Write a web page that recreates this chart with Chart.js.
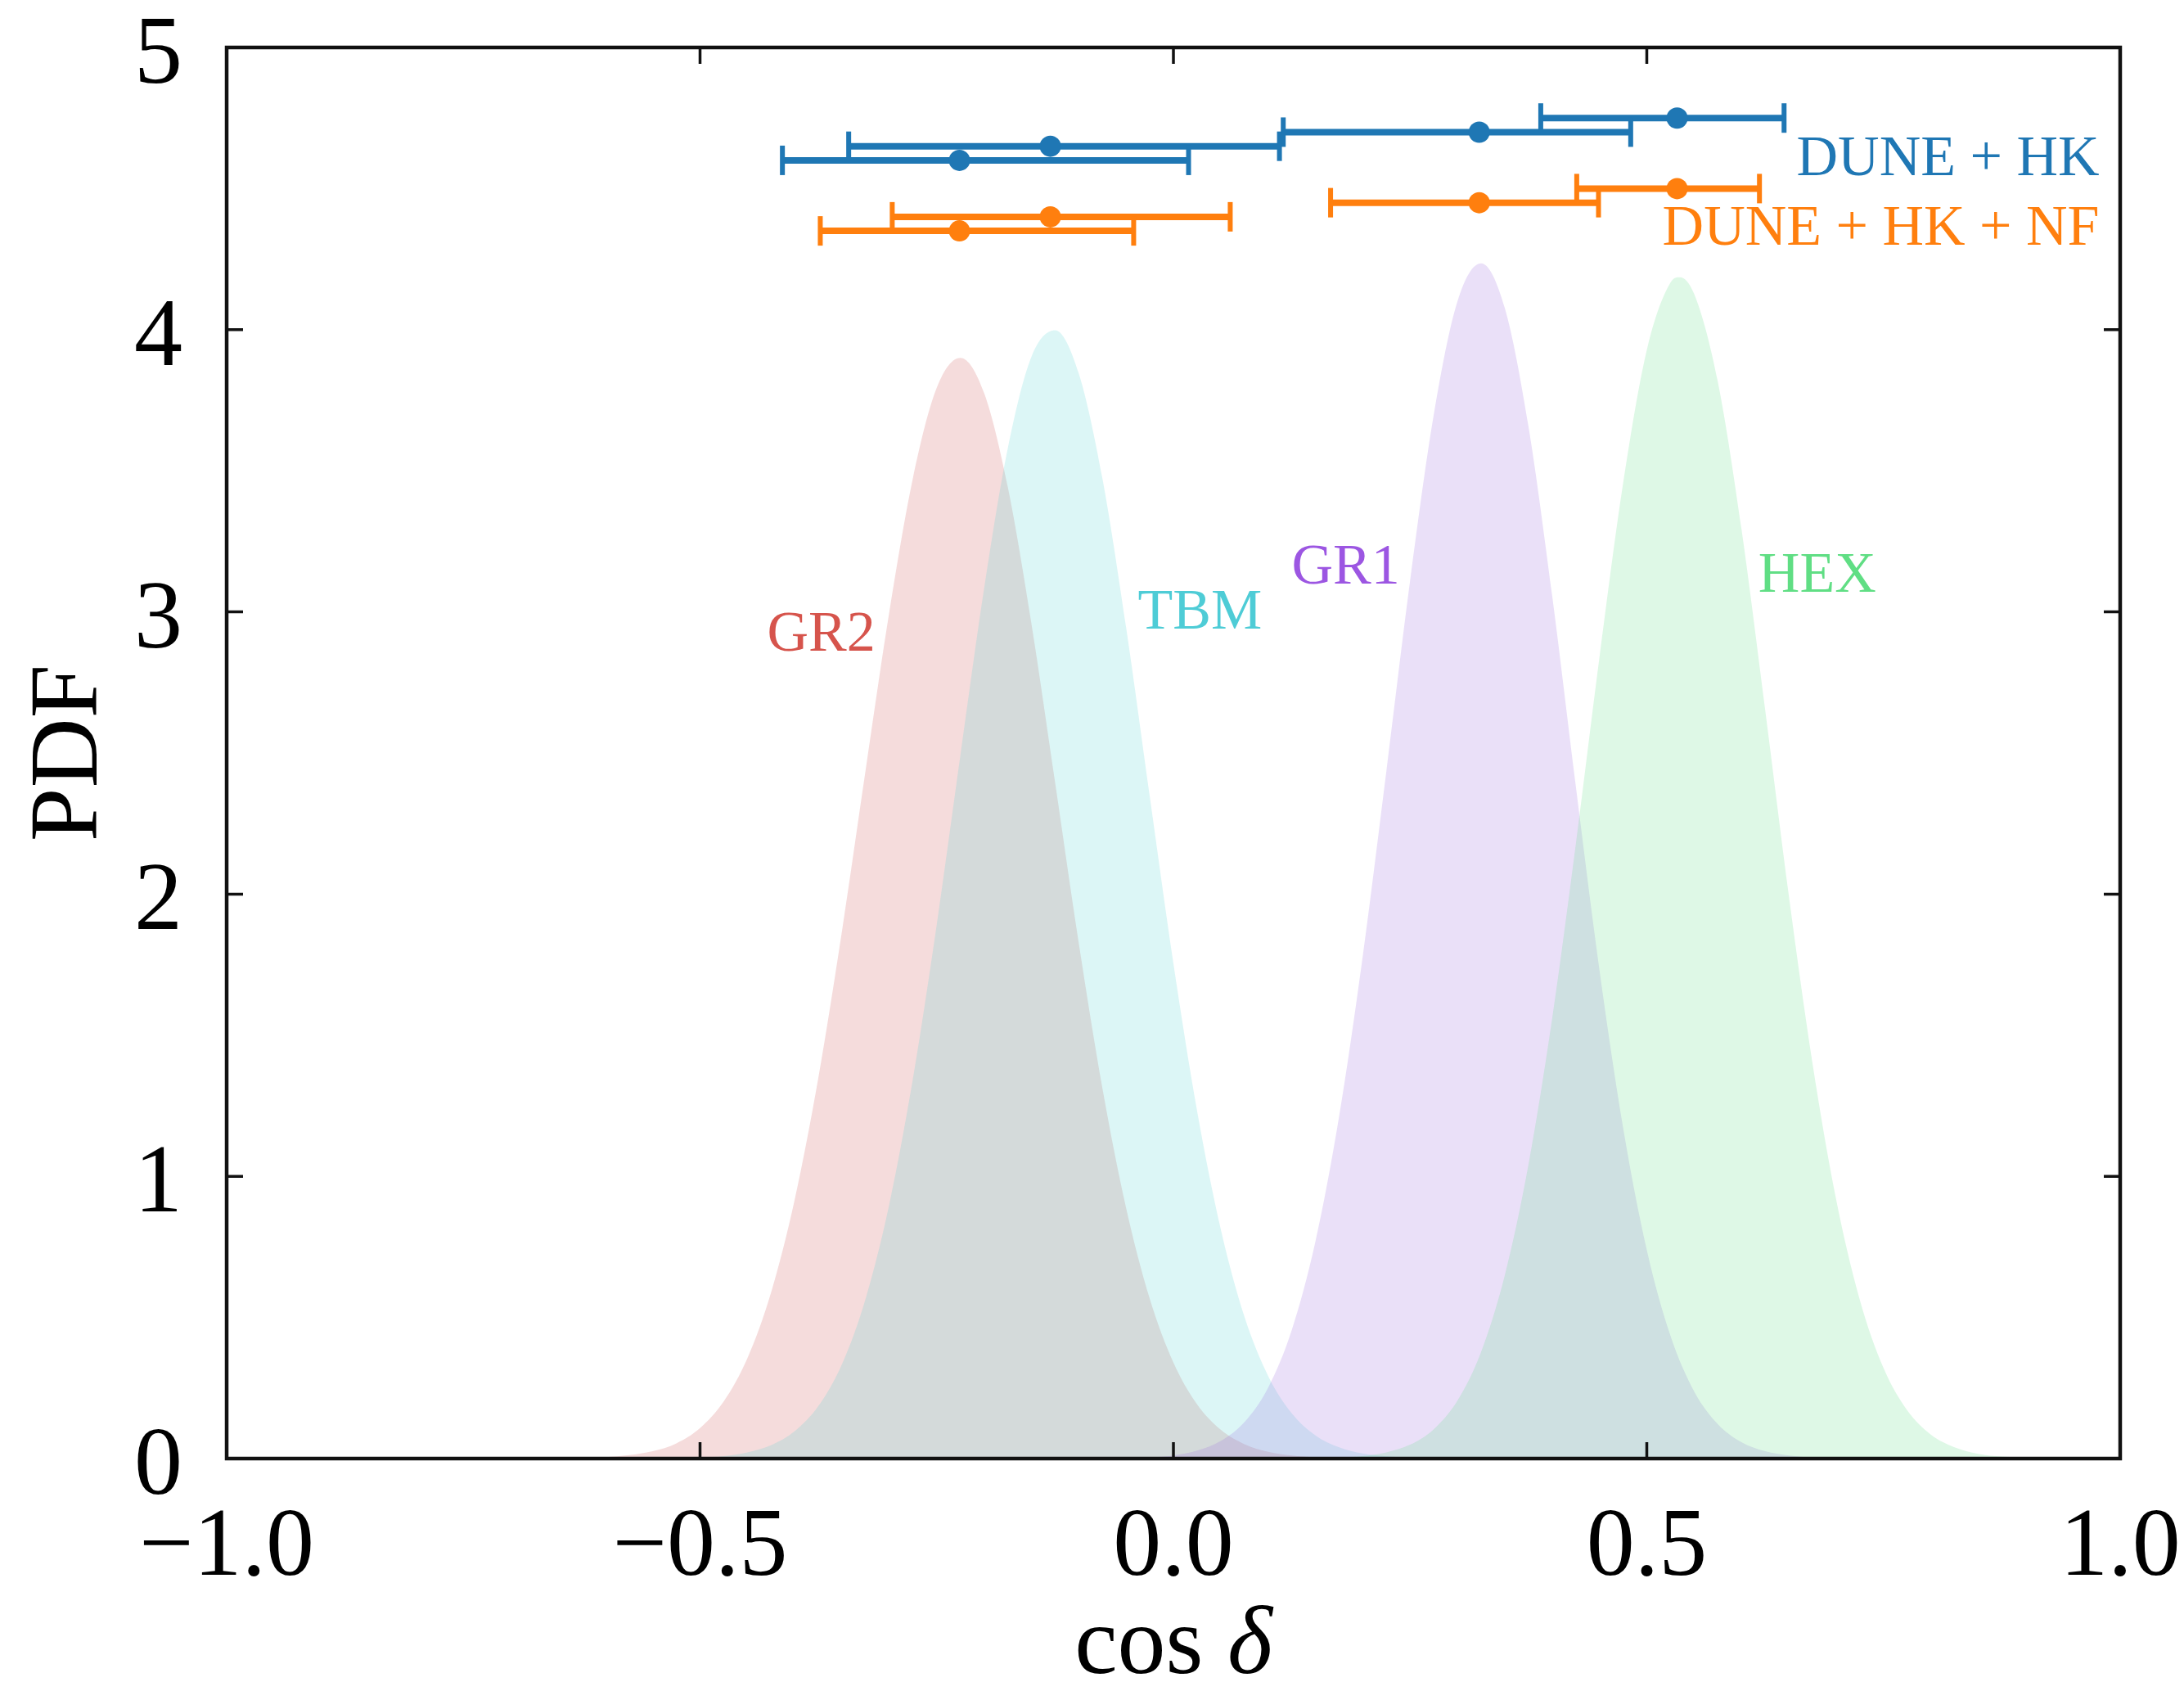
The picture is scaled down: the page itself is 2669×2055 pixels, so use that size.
<!DOCTYPE html>
<html>
<head>
<meta charset="utf-8">
<script src="https://cdn.jsdelivr.net/npm/chart.js@4.4.1/dist/chart.umd.min.js"></script>
<style>
    html, body { margin: 0; padding: 0; background: #fff; }
    canvas { display: block; }
</style>
</head>
<body>
<canvas id="pdf-chart" width="2669" height="2055"></canvas>
<script>
// cos(delta) grid and PDF, one pair per model
const gr2X = [-0.625, -0.6, -0.575, -0.55, -0.525, -0.5, -0.475, -0.45, -0.425, -0.4, -0.375, -0.35, -0.325, -0.3, -0.275, -0.25, -0.225, -0.2, -0.175, -0.15, -0.125, -0.1, -0.075, -0.05, -0.025, 0, 0.025, 0.05, 0.075, 0.1, 0.125, 0.15, 0.175]
const gr2Y = [0.002, 0.005, 0.012, 0.026, 0.054, 0.108, 0.202, 0.355, 0.588, 0.918, 1.350, 1.871, 2.442, 3.002, 3.477, 3.794, 3.900, 3.776, 3.444, 2.959, 2.396, 1.827, 1.312, 0.888, 0.566, 0.340, 0.192, 0.102, 0.051, 0.024, 0.011, 0.005, 0.002]

const tbmX = [-0.525, -0.5, -0.475, -0.45, -0.425, -0.4, -0.375, -0.35, -0.325, -0.3, -0.275, -0.25, -0.225, -0.2, -0.175, -0.15, -0.125, -0.1, -0.075, -0.05, -0.025, 0, 0.025, 0.05, 0.075, 0.1, 0.125, 0.15, 0.175, 0.2, 0.225, 0.25, 0.275]
const tbmY = [0.001, 0.004, 0.009, 0.022, 0.047, 0.097, 0.186, 0.335, 0.568, 0.903, 1.349, 1.892, 2.492, 3.082, 3.579, 3.904, 3.998, 3.845, 3.473, 2.946, 2.346, 1.754, 1.232, 0.813, 0.503, 0.293, 0.160, 0.082, 0.040, 0.018, 0.008, 0.003, 0.001]

const gr1X = [-0.05, -0.025, 0, 0.025, 0.05, 0.075, 0.1, 0.125, 0.15, 0.175, 0.2, 0.225, 0.25, 0.275, 0.3, 0.325, 0.35, 0.375, 0.4, 0.425, 0.45, 0.475, 0.5, 0.525, 0.55, 0.575, 0.6, 0.625, 0.65, 0.675, 0.7]
const gr1Y = [0.002, 0.004, 0.011, 0.028, 0.062, 0.129, 0.251, 0.455, 0.769, 1.212, 1.781, 2.438, 3.111, 3.699, 4.100, 4.235, 4.077, 3.658, 3.059, 2.383, 1.731, 1.172, 0.739, 0.435, 0.238, 0.122, 0.058, 0.026, 0.011, 0.004, 0.002]

const hexX = [0.15, 0.175, 0.2, 0.225, 0.25, 0.275, 0.3, 0.325, 0.35, 0.375, 0.4, 0.425, 0.45, 0.475, 0.5, 0.525, 0.535, 0.55, 0.575, 0.6, 0.625, 0.65, 0.675, 0.7, 0.725, 0.75, 0.775, 0.8, 0.825, 0.85, 0.875, 0.9, 0.925]
const hexY = [0.001, 0.004, 0.009, 0.022, 0.049, 0.104, 0.205, 0.378, 0.649, 1.041, 1.558, 2.176, 2.839, 3.456, 3.928, 4.167, 4.186, 4.127, 3.816, 3.294, 2.654, 1.995, 1.401, 0.918, 0.562, 0.321, 0.171, 0.085, 0.040, 0.017, 0.007, 0.003, 0.001]

// best fit and 1 sigma range, DUNE + HK
const hkMid = [-0.226, -0.130, 0.323, 0.532]
const hkY = [4.60, 4.65, 4.70, 4.75]
const hkLo = [-0.413, -0.343, 0.116, 0.388]
const hkHi = [0.016, 0.112, 0.483, 0.645]

// DUNE + HK + NF
const nfMid = [-0.226, -0.130, 0.323, 0.532]
const nfY = [4.35, 4.40, 4.45, 4.50]
const nfLo = [-0.373, -0.297, 0.166, 0.426]
const nfHi = [-0.042, 0.060, 0.449, 0.619]

const xTicks = [-1, -0.5, 0, 0.5, 1]
const yTicks = [0, 1, 2, 3, 4, 5]

const BLUE = '#1f77b4'
const ORANGE = '#ff7f0e'
const SERIF = '"Liberation Serif", "DejaVu Serif", serif'

// text labels placed in data coordinates
const notes = [
    { text: 'GR2', x: -0.372, y: 2.915, color: 'rgb(214, 84, 76)', align: 'center' },
    { text: 'TBM', x: 0.028, y: 2.995, color: 'rgb(78, 204, 214)', align: 'center' },
    { text: 'GR1', x: 0.182, y: 3.155, color: 'rgb(156, 86, 226)', align: 'center' },
    { text: 'HEX', x: 0.680, y: 3.125, color: 'rgb(96, 222, 132)', align: 'center' },
    { text: 'DUNE + HK', x: 0.978, y: 4.60, color: BLUE, align: 'right' },
    { text: 'DUNE + HK + NF', x: 0.978, y: 4.353, color: ORANGE, align: 'right' }
]

function pts(xs, ys) {
    return xs.map((x, i) => ({ x: x, y: ys[i] }))
}

function curve(xs, ys, fillColor) {
    return {
        data: pts(xs, ys),
        fill: 'origin',
        backgroundColor: fillColor,
        borderColor: 'transparent',
        borderWidth: 0,
        pointRadius: 0,
        cubicInterpolationMode: 'monotone'
    }
}

function errorBars(mid, ys, lo, hi, color) {
    return mid.map((m, i) => ({
        data: [{ x: lo[i], y: ys[i] }, { x: hi[i], y: ys[i] }],
        borderColor: color,
        borderWidth: 8,
        fill: false,
        pointStyle: 'line',
        pointRotation: 90,
        pointRadius: 18,
        pointBorderWidth: 6,
        pointBorderColor: color
    }))
}

function dots(mid, ys, color) {
    return {
        data: pts(mid, ys),
        showLine: false,
        pointRadius: 13,
        pointBorderWidth: 0,
        pointBackgroundColor: color
    }
}

// inward ticks on all four sides plus the box
const frame = {
    id: 'frame',
    afterDatasetsDraw(chart) {
        const { ctx, chartArea: a, scales } = chart
        const len = 20
        ctx.save()
        ctx.strokeStyle = '#111'
        ctx.lineWidth = 3.5
        ctx.beginPath()
        scales.x.ticks.forEach(t => {
            let px = scales.x.getPixelForValue(t.value)
            ctx.moveTo(px, a.bottom)
            ctx.lineTo(px, a.bottom - len)
            ctx.moveTo(px, a.top)
            ctx.lineTo(px, a.top + len)
        })
        scales.y.ticks.forEach(t => {
            let py = scales.y.getPixelForValue(t.value)
            ctx.moveTo(a.left, py)
            ctx.lineTo(a.left + len, py)
            ctx.moveTo(a.right, py)
            ctx.lineTo(a.right - len, py)
        })
        ctx.stroke()
        ctx.lineWidth = 4.5
        ctx.strokeRect(a.left, a.top, a.width, a.height)
        ctx.restore()
    }
}

const annotate = {
    id: 'annotate',
    afterDatasetsDraw(chart) {
        const { ctx, scales } = chart
        ctx.save()
        ctx.font = '70px ' + SERIF
        ctx.textBaseline = 'middle'
        notes.forEach(n => {
            ctx.fillStyle = n.color
            ctx.textAlign = n.align
            ctx.fillText(n.text, scales.x.getPixelForValue(n.x), scales.y.getPixelForValue(n.y))
        })
        ctx.restore()
    }
}

// x axis title: upright "cos", italic delta
const xTitle = {
    id: 'xTitle',
    afterDraw(chart) {
        const { ctx, chartArea: a } = chart
        let cx = (a.left + a.right) / 2
        let base = 2044
        ctx.save()
        ctx.fillStyle = '#000'
        ctx.textBaseline = 'alphabetic'
        ctx.textAlign = 'left'
        ctx.font = '118px ' + SERIF
        let w1 = ctx.measureText('cos ').width
        ctx.font = 'italic 118px ' + SERIF
        let w2 = ctx.measureText('\u03b4').width
        let x0 = cx - (w1 + w2) / 2
        ctx.font = '118px ' + SERIF
        ctx.fillText('cos ', x0, base)
        ctx.font = 'italic 118px ' + SERIF
        ctx.fillText('\u03b4', x0 + w1, base)
        ctx.restore()
    }
}

function tickLabel(v) {
    return (v < 0 ? '\u2212' : '') + Math.abs(v).toFixed(1)
}

Chart.defaults.font.family = SERIF
Chart.defaults.color = '#000'

const ctx = document.getElementById('pdf-chart').getContext('2d')
const pdfChart = new Chart(ctx, {
    type: 'line',
    data: {
        datasets: [
            dots(hkMid, hkY, BLUE),
            dots(nfMid, nfY, ORANGE),
            ...errorBars(hkMid, hkY, hkLo, hkHi, BLUE),
            ...errorBars(nfMid, nfY, nfLo, nfHi, ORANGE),
            curve(hexX, hexY, 'rgba(90, 220, 130, 0.2)'),
            curve(gr1X, gr1Y, 'rgba(150, 100, 220, 0.2)'),
            curve(tbmX, tbmY, 'rgba(80, 210, 210, 0.2)'),
            curve(gr2X, gr2Y, 'rgba(205, 80, 80, 0.2)')
        ]
    },
    options: {
        responsive: false,
        animation: false,
        devicePixelRatio: 1,
        layout: { padding: { left: 0, top: 58, right: 78, bottom: 0 } },
        plugins: {
            legend: { display: false },
            tooltip: { enabled: false }
        },
        scales: {
            x: {
                type: 'linear',
                min: -1,
                max: 1,
                grid: { display: false, drawTicks: false },
                border: { display: false },
                afterBuildTicks: s => { s.ticks = xTicks.map(v => ({ value: v })) },
                afterFit: s => { s.height = 273; s.paddingLeft = 0; s.paddingRight = 0 },
                ticks: {
                    padding: 40,
                    maxRotation: 0,
                    font: { size: 118 },
                    callback: v => tickLabel(v)
                }
            },
            y: {
                min: 0,
                max: 5,
                grid: { display: false, drawTicks: false },
                border: { display: false },
                afterBuildTicks: s => { s.ticks = yTicks.map(v => ({ value: v })) },
                afterFit: s => { s.width = 277; s.paddingTop = 0; s.paddingBottom = 0 },
                ticks: {
                    padding: 54,
                    labelOffset: 12,
                    font: { size: 118 },
                    callback: v => String(v)
                },
                title: {
                    display: true,
                    text: 'PDF',
                    font: { size: 118, lineHeight: 1.2 },
                    padding: { top: 16, bottom: 0 }
                }
            }
        }
    },
    plugins: [frame, annotate, xTitle]
})
</script>
</body>
</html>
